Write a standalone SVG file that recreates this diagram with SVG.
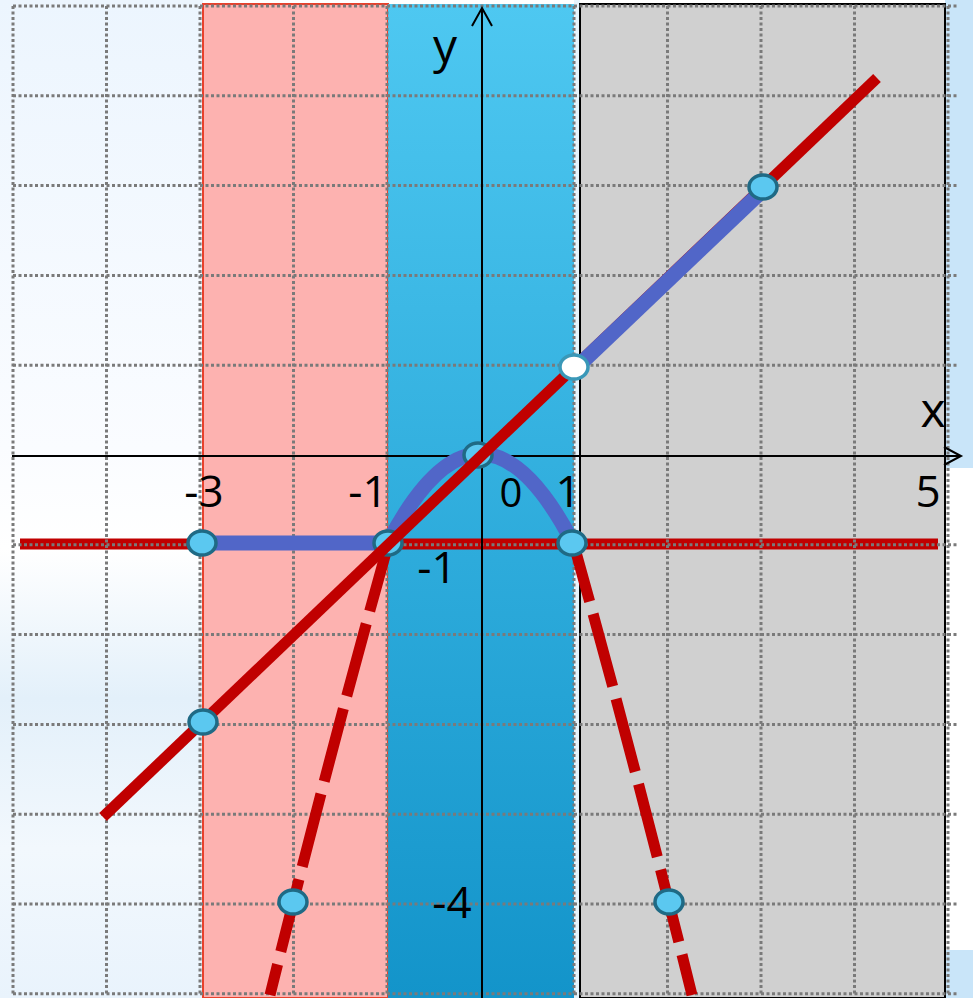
<svg xmlns="http://www.w3.org/2000/svg" width="973" height="998" viewBox="0 0 973 998">
<defs>
<linearGradient id="gLeft" x1="0" y1="0" x2="0" y2="1">
<stop offset="0" stop-color="#ECF5FE"/>
<stop offset="0.45" stop-color="#FAFCFF"/>
<stop offset="0.55" stop-color="#FFFFFF"/>
<stop offset="0.7" stop-color="#E3F0FA"/>
<stop offset="0.85" stop-color="#F2F8FD"/>
<stop offset="1" stop-color="#E9F3FC"/>
</linearGradient>
<linearGradient id="gBlue" x1="0" y1="0" x2="0" y2="1">
<stop offset="0" stop-color="#4EC8F1"/>
<stop offset="1" stop-color="#1394CA"/>
</linearGradient>
<style>
.grid{stroke:#7A7A7A;stroke-width:3;stroke-dasharray:3 2.5;fill:none}
.axis{stroke:#000;stroke-width:2;fill:none}
.red{stroke:#C00000;stroke-width:11;fill:none}
.blue{stroke:#5166C8;stroke-width:15;fill:none}
.dash{stroke:#C00000;stroke-width:11;fill:none;stroke-dasharray:75 13}
.pt{fill:#5BC8F0;stroke:#1F6A85;stroke-width:3.5}
.open{fill:#FFFFFF;stroke:#3A98B8;stroke-width:3.5}
.lbl{font-family:"Open Sans","Liberation Sans",sans-serif;font-size:44px;fill:#000;text-anchor:middle}
.let{font-family:"Open Sans","Liberation Sans",sans-serif;font-size:48px;fill:#000;text-anchor:middle}
</style>
</defs>
<g id="background">
<rect x="0" y="0" width="973" height="998" fill="#FFFFFF"/>
<rect x="0" y="0" width="203" height="998" fill="url(#gLeft)"/>
<rect x="945" y="0" width="28" height="468" fill="#C9E5F9"/>
<rect x="945" y="950" width="28" height="48" fill="#C9E5F9"/>
<rect x="574" y="0" width="6" height="998" fill="#E6F3FB"/>
<rect id="pink" x="203" y="4" width="185" height="994" fill="#FDB2B0" stroke="#E8412C" stroke-width="2"/>
<rect id="blueband" x="388" y="4" width="186" height="994" fill="url(#gBlue)"/>
<rect id="gray" x="580" y="4" width="365" height="994" fill="#D0D0D0" stroke="#000" stroke-width="2"/>
</g>
<g id="hline">
<line class="red" x1="20" y1="544" x2="938" y2="544"/>
</g>
<g id="grid">
<path class="grid" d="M13 6V995M106.5 6V995M200 6V995M293.5 6V995M387 6V995M574 6V995M667.5 6V995M761 6V995M854.5 6V995M948 6V995"/>
<path class="grid" d="M13 6H958M13 95.8H958M13 185.6H958M13 275.4H958M13 365.2H958M13 544.8H958M13 634.6H958M13 724.4H958M13 814.2H958M13 904H958M13 993.8H958"/>
</g>
<g id="axes">
<line class="axis" x1="12" y1="456" x2="961" y2="456"/>
<polyline class="axis" points="944,447 961,456 944,465"/>
<line class="axis" x1="482" y1="998" x2="482" y2="8"/>
<polyline class="axis" points="472,26 482,8 492,26"/>
</g>
<g id="connectors">
<line class="blue" x1="203" y1="543" x2="388" y2="543"/>
<path class="blue" d="M388 543 Q480.5 365 573 543"/>
<path class="dash" stroke-dashoffset="6" d="M388 545 Q329 756 270 995"/>
<path class="dash" stroke-dashoffset="16" d="M574 545 Q633 756 692 995"/>
</g>
<g id="p-m1m1"><ellipse class="pt" cx="388" cy="543" rx="14" ry="12"/></g>
<g id="p-00"><ellipse class="pt" cx="478" cy="455" rx="14" ry="12"/></g>
<g id="redline">
<line class="red" x1="103" y1="817" x2="877" y2="78"/>
<line class="blue" x1="575" y1="369" x2="763" y2="190"/>
</g>
<g id="p-m3m1"><ellipse class="pt" cx="202" cy="543" rx="14" ry="12"/></g>
<g id="p-1m1"><ellipse class="pt" cx="572" cy="543" rx="14" ry="12"/></g>
<g id="p-11"><ellipse class="open" cx="574" cy="367" rx="14" ry="12"/></g>
<g id="p-33"><ellipse class="pt" cx="763" cy="187" rx="14" ry="12"/></g>
<g id="p-m3m3"><ellipse class="pt" cx="203" cy="722" rx="14" ry="12"/></g>
<g id="p-m2m4"><ellipse class="pt" cx="293" cy="902" rx="14" ry="12"/></g>
<g id="p-2m4"><ellipse class="pt" cx="669" cy="902" rx="14" ry="12"/></g>
<g id="labels">
<text class="let" x="445" y="63">y</text>
<text class="let" x="933" y="427">x</text>
<text class="lbl" x="204" y="507">-3</text>
<text class="lbl" x="368" y="507">-1</text>
<text class="lbl" x="511" y="507" style="font-size:40px">0</text>
<text class="lbl" x="568" y="507">1</text>
<text class="lbl" x="928" y="507">5</text>
<text class="lbl" x="437" y="583">-1</text>
<text class="lbl" x="452" y="918">-4</text>
</g>
</svg>
